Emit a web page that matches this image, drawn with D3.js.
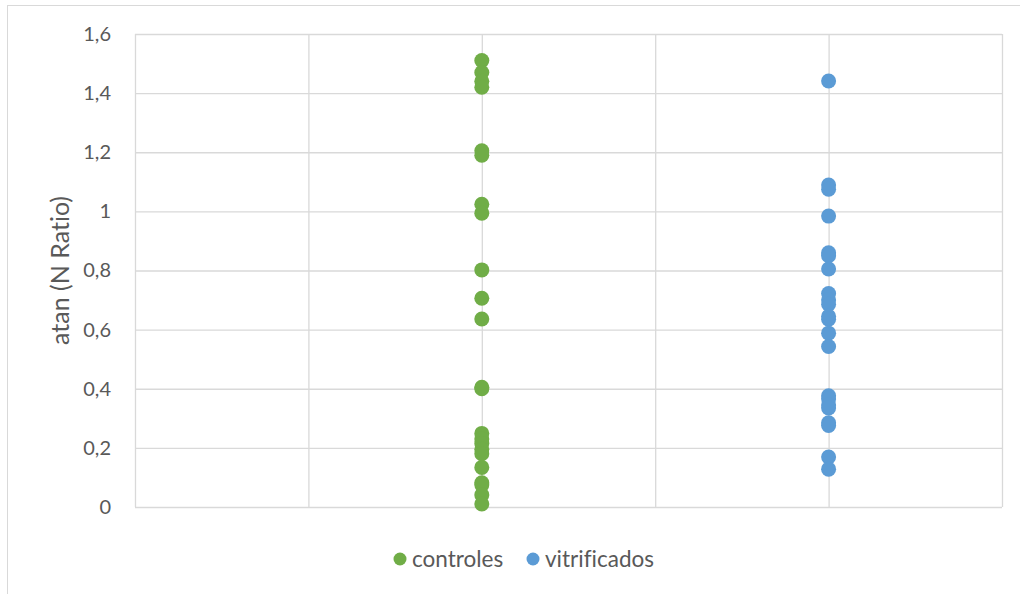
<!DOCTYPE html>
<html>
<head>
<meta charset="utf-8">
<script src="https://cdn.jsdelivr.net/npm/d3@7"></script>
<style>
  body { margin: 0; background: #fff; }
  svg text { font-family: Lato, "Open Sans", sans-serif; fill: #595959; font-variant-ligatures: none; }
</style>
</head>
<body>
<div id="chart"></div>
<script>
// Data
const seriesNames = ["controles", "vitrificados"];
const seriesX = [2, 4];
const seriesColors = ["#70AD47", "#5B9BD5"];
const controles = [1.51, 1.47, 1.44, 1.42, 1.205, 1.19, 1.024, 0.994, 0.802, 0.706, 0.636,
    0.405, 0.40, 0.249, 0.23, 0.215, 0.195, 0.18, 0.134, 0.082, 0.075, 0.041, 0.01];
const vitrificados = [1.441, 1.089, 1.075, 0.984, 0.86, 0.85, 0.805, 0.722, 0.70, 0.686,
    0.645, 0.635, 0.588, 0.543, 0.376, 0.365, 0.345, 0.335, 0.285, 0.276, 0.169, 0.128];
const yTicks = [0, 0.2, 0.4, 0.6, 0.8, 1, 1.2, 1.4, 1.6];
const xTicks = [0, 1, 2, 3, 4, 5];

const width = 1020, height = 594;
const plot = { left: 135, right: 1002, top: 34, bottom: 507 };

const svg = d3.select("#chart").append("svg")
    .attr("width", width)
    .attr("height", height);

// Outer chart frame
svg.append("rect")
    .attr("x", 7.5).attr("y", 5.5)
    .attr("width", width + 10).attr("height", height + 10)
    .attr("fill", "none").attr("stroke", "#d9d9d9");

const x = d3.scaleLinear().domain([0, 5]).range([plot.left, plot.right]);
const y = d3.scaleLinear().domain([0, 1.6]).range([plot.bottom, plot.top]);
const fmt = (v) => String(+v.toFixed(1)).replace(".", ",");

// Horizontal gridlines + tick labels
svg.append("g")
    .attr("transform", `translate(${plot.left},0)`)
    .call(d3.axisLeft(y).tickValues(yTicks).tickSize(-(plot.right - plot.left)).tickFormat(fmt).tickPadding(24))
    .call(g => g.select(".domain").remove())
    .call(g => g.selectAll("line").attr("stroke", "#d9d9d9").attr("stroke-width", 1.3))
    .call(g => g.selectAll("text").attr("font-size", 20).attr("fill", "#595959")
        .style("font-family", "Lato, sans-serif"));

// Vertical gridlines
svg.append("g")
    .attr("transform", `translate(0,${plot.bottom})`)
    .call(d3.axisBottom(x).tickValues(xTicks).tickSize(-(plot.bottom - plot.top)).tickFormat(""))
    .call(g => g.select(".domain").remove())
    .call(g => g.selectAll("line").attr("stroke", "#d9d9d9").attr("stroke-width", 1.3));

// Y axis title
svg.append("text")
    .attr("transform", `translate(69,${(plot.top + plot.bottom) / 2}) rotate(-90)`)
    .attr("text-anchor", "middle")
    .attr("font-size", 25)
    .text("atan (N Ratio)");

// Points
const series = [controles, vitrificados];
series.forEach((vals, s) => {
    svg.append("g").selectAll("circle")
        .data(vals)
        .join("circle")
        .attr("cx", x(seriesX[s]))
        .attr("cy", d => y(d))
        .attr("r", 7.5)
        .attr("fill", seriesColors[s]);
});

// Legend
const legendPos = [400, 533];
const legend = svg.append("g");
seriesNames.forEach((name, i) => {
    legend.append("circle")
        .attr("cx", legendPos[i]).attr("cy", 559)
        .attr("r", 6.5).attr("fill", seriesColors[i]);
    legend.append("text")
        .attr("x", legendPos[i] + 12).attr("y", 567)
        .attr("font-size", 22.5)
        .text(name);
});
</script>
</body>
</html>
